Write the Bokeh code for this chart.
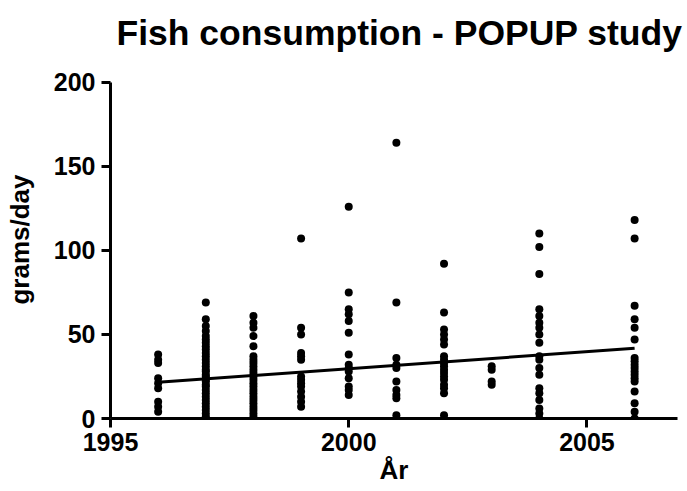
from bokeh.plotting import figure
from bokeh.models import Range1d, FixedTicker, ColumnDataSource
from bokeh.embed import file_html
from bokeh.resources import INLINE

# Data (grams/day per participant, by year)
y1996 = [38, 35, 33, 24, 21, 18, 10, 7, 4]
y1997 = [69, 59, 55, 52, 49, 47, 45, 43, 41, 39, 37, 35, 33, 31, 29, 28, 26, 25,
         23, 22, 20, 19, 17, 15, 13, 11, 9, 7, 5, 3, 1, 0]
y1998 = [61, 57, 54, 49, 43, 37, 35, 33, 31, 29, 27, 25, 23, 21, 19, 17, 15, 13,
         11, 9, 7, 5, 3, 1]
y1999 = [107, 54, 50, 39, 37, 35, 25, 23, 21, 19, 16, 13, 10, 7]
y2000 = [126, 75, 65, 62, 58, 51, 38, 32, 30, 28, 24, 19, 17, 14]
y2001 = [164, 69, 36, 32, 30, 22, 17, 14, 12, 2]
y2002 = [92, 63, 53, 50, 47, 44, 37, 35, 33, 31, 29, 27, 25, 23, 20, 18, 15, 2]
y2003 = [31, 29, 22, 20]
y2004 = [110, 102, 86, 65, 61, 57, 54, 50, 45, 37, 35, 30, 26, 18, 15, 11, 6, 3, 0]
y2006 = [118, 107, 67, 59, 54, 47, 36, 34, 32, 30, 28, 26, 24, 22, 16, 9, 4, 0]

years = [1996, 1997, 1998, 1999, 2000, 2001, 2002, 2003, 2004, 2006]
series = [y1996, y1997, y1998, y1999, y2000, y2001, y2002, y2003, y2004, y2006]

# Linear trend line
trend_years = [1996, 2006]
trend_values = [21.5, 41.8]

x_ticks = [1995, 2000, 2005]
y_ticks = [0, 50, 100, 150, 200]

title_text = "Fish consumption - POPUP study"

xs, ys = [], []
for yr, vals in zip(years, series):
    xs.extend([yr] * len(vals))
    ys.extend(vals)
src = ColumnDataSource(dict(x=xs, y=ys))

FONT = "Liberation Sans"

p = figure(width=686, height=490, output_backend="svg", toolbar_location=None,
           x_range=Range1d(1995, 2006.9), y_range=Range1d(0, 212.9),
           min_border_left=110, min_border_right=9, min_border_top=60,
           min_border_bottom=72)
p.outline_line_color = None
p.grid.visible = False
p.background_fill_color = "white"

p.title.text = title_text
p.title.text_font = FONT
p.title.text_font_style = "bold"
p.title.text_font_size = "35.5px"
p.title.text_color = "black"
p.title.align = "left"
p.title.offset = 6
p.title.standoff = 16

for ax in (p.xaxis[0], p.yaxis[0]):
    ax.axis_line_width = 3
    ax.axis_line_color = "black"
    ax.major_tick_line_width = 3
    ax.major_tick_line_color = "black"
    ax.major_tick_in = 0
    ax.major_tick_out = 9
    ax.minor_tick_line_color = None
    ax.major_label_text_font = FONT
    ax.major_label_text_font_style = "bold"
    ax.major_label_text_font_size = "25px"
    ax.major_label_text_color = "black"
    ax.axis_label_text_font = FONT
    ax.axis_label_text_font_style = "bold"
    ax.axis_label_text_font_size = "26px"
    ax.axis_label_text_color = "black"

p.xaxis.ticker = FixedTicker(ticks=x_ticks)
p.yaxis.ticker = FixedTicker(ticks=y_ticks)
p.yaxis.bounds = (0, 200)
p.xaxis.axis_label = "År"
p.yaxis.axis_label = "grams/day"
p.xaxis.major_label_standoff = 5
p.yaxis.major_label_standoff = 6
p.xaxis.axis_label_standoff = 1
p.xaxis.axis_label_text_line_height = 0.9
p.yaxis.axis_label_standoff = 16

p.scatter("x", "y", source=src, size=8, fill_color="black", line_color=None)
p.line(trend_years, trend_values, line_color="black", line_width=3)

open("out.html", "w").write(file_html(p, INLINE))
